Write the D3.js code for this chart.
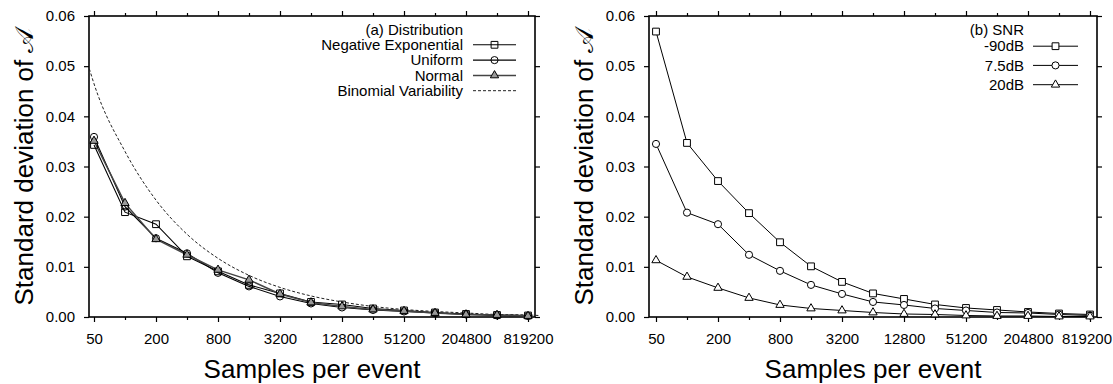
<!DOCTYPE html>
<html>
<head>
<meta charset="utf-8">
<script src="https://cdn.jsdelivr.net/npm/d3@7"></script>
<style>
  body { margin: 0; background: #fff; }
  svg { display: block; }
</style>
</head>
<body>
<div id="chart"></div>
<script>
// samples per event (x), doubling each step
const samples = [50, 100, 200, 400, 800, 1600, 3200, 6400, 12800, 25600, 51200, 102400, 204800, 409600, 819200];
const xTickLabels = ["50", "200", "800", "3200", "12800", "51200", "204800", "819200"];
const yTicks = [0, 0.01, 0.02, 0.03, 0.04, 0.05, 0.06];

// (a) Distribution
const negExp  = [0.0343, 0.0209, 0.0185, 0.0121, 0.0091, 0.0064, 0.0047, 0.0030, 0.0025, 0.0017, 0.0013, 0.0009, 0.0006, 0.0004, 0.0003];
const uniform = [0.0359, 0.0220, 0.0157, 0.0127, 0.0088, 0.0061, 0.0041, 0.0027, 0.0019, 0.0014, 0.0011, 0.0008, 0.0005, 0.0003, 0.0002];
const normal  = [0.0351, 0.0227, 0.0155, 0.0124, 0.0094, 0.0074, 0.0046, 0.0029, 0.0021, 0.0015, 0.0012, 0.0008, 0.0005, 0.0004, 0.0002];
const binomialN    = [45, 50, 100, 200, 400, 800, 1600, 3200, 6400, 12800, 25600, 51200, 102400, 204800, 409600, 819200, 1048576];
const binomialVals = [0.0495, 0.0465, 0.0330, 0.0233, 0.0165, 0.0117, 0.0083, 0.0059, 0.0042, 0.0030, 0.0021, 0.0015, 0.0011, 0.0008, 0.0005, 0.0004, 0.0003];

// (b) SNR
const snrM90 = [0.0569, 0.0347, 0.0271, 0.0207, 0.0149, 0.0101, 0.0070, 0.0047, 0.0036, 0.0025, 0.0018, 0.0014, 0.0010, 0.0007, 0.0005];
const snr75  = [0.0345, 0.0208, 0.0185, 0.0124, 0.0092, 0.0064, 0.0046, 0.0030, 0.0024, 0.0017, 0.0013, 0.0009, 0.0008, 0.0005, 0.0003];
const snr20  = [0.0113, 0.0080, 0.0058, 0.0038, 0.0024, 0.0017, 0.0013, 0.0009, 0.0006, 0.0005, 0.0003, 0.0002, 0.0002, 0.0001, 0.0001];

const FONT = "'Liberation Sans', Arial, Helvetica, sans-serif";
const width = 1113, height = 384;
const plotTop = 16, plotBottom = 317;

const svg = d3.select("#chart").append("svg")
    .attr("width", width)
    .attr("height", height)
    .style("font-family", FONT);

const y = d3.scaleLinear().domain([0, 0.06]).range([plotBottom, plotTop]);

const shapes = {
  square: d3.symbol().type(d3.symbolSquare).size(46),
  circle: d3.symbol().type(d3.symbolCircle).size(40),
  triangle: d3.symbol().type(d3.symbolTriangle).size(30)
};

function drawPanel(p) {
  const g = svg.append("g");
  const x = d3.scaleLog().base(2)
      .domain([samples[0], samples[samples.length - 1]])
      .range([p.x0, p.x1]);

  const styleAxis = a => {
    a.select(".domain").remove();
    a.attr("font-family", FONT).attr("font-size", 15);
    a.selectAll("line").attr("stroke", "#000").attr("stroke-width", 1.2);
    a.selectAll("text").attr("fill", "#000");
  };

  // bottom axis: every doubling ticked, every other one labelled
  g.append("g")
      .attr("transform", `translate(0,${plotBottom})`)
      .call(d3.axisBottom(x).tickValues(samples).tickSize(5).tickPadding(11)
        .tickFormat((d, i) => i % 2 ? "" : xTickLabels[i / 2]))
      .call(styleAxis)
      .call(a => a.selectAll(".tick").filter((d, i) => i % 2 === 1).select("line").attr("y2", 3))
      // keep the last label inside the page
      .call(a => a.selectAll(".tick text").each(function() {
        const b = this.getBBox();
        const t = this.parentNode.transform.baseVal.consolidate().matrix.e;
        const over = t + b.x + b.width - (width - 1);
        if (over > 0) d3.select(this).attr("dx", -over);
      }));

  g.append("g")
      .attr("transform", `translate(0,${plotTop})`)
      .call(d3.axisTop(x).tickValues(samples).tickSize(5).tickFormat(""))
      .call(styleAxis)
      .call(a => a.selectAll(".tick").filter((d, i) => i % 2 === 1).select("line").attr("y2", -3));

  g.append("g")
      .attr("transform", `translate(${p.left},0)`)
      .call(d3.axisLeft(y).tickValues(yTicks).tickSize(5).tickPadding(9).tickFormat(d3.format(".2f")))
      .call(styleAxis);

  g.append("g")
      .attr("transform", `translate(${p.right},0)`)
      .call(d3.axisRight(y).tickValues(yTicks).tickSize(5).tickFormat(""))
      .call(styleAxis);

  // frame
  g.append("rect")
      .attr("x", p.left).attr("y", plotTop)
      .attr("width", p.right - p.left).attr("height", plotBottom - plotTop)
      .attr("fill", "none").attr("stroke", "#000").attr("stroke-width", 1.6);

  // axis titles
  g.append("text")
      .attr("transform", `translate(${p.left - 56},${(plotTop + plotBottom) / 2}) rotate(-90)`)
      .attr("text-anchor", "middle")
      .attr("font-size", 26)
      .text("Standard deviation of 𝒜");

  g.append("text")
      .attr("x", (p.left + p.right) / 2)
      .attr("y", 378)
      .attr("text-anchor", "middle")
      .attr("font-size", 26)
      .text("Samples per event");

  // dashed reference curve
  if (p.dashed) {
    g.append("path")
        .datum(p.dashed.vals)
        .attr("fill", "none")
        .attr("stroke", "#222")
        .attr("stroke-width", 1)
        .attr("stroke-dasharray", "3,2")
        .attr("d", d3.line()
          .x((d, i) => Math.max(p.left, x(p.dashed.n[i])))
          .y(d => y(d))
          .curve(d3.curveMonotoneX));
  }

  const line = d3.line().x((d, i) => x(samples[i])).y(d => y(d));

  p.series.forEach(s => {
    g.append("path")
        .datum(s.values)
        .attr("fill", "none")
        .attr("stroke", s.stroke)
        .attr("stroke-width", s.width)
        .attr("d", line);
  });

  p.series.forEach(s => {
    g.append("g").selectAll("path")
        .data(s.values)
        .enter().append("path")
        .attr("transform", (d, i) => `translate(${x(samples[i])},${y(d)})`)
        .attr("d", shapes[s.shape]())
        .attr("fill", s.fill)
        .attr("stroke", "#000")
        .attr("stroke-width", 1);
  });

  // legend
  const lg = g.append("g").attr("font-size", 15);
  lg.append("text")
      .attr("x", p.legend.textX).attr("y", p.legend.rows[0])
      .attr("dy", "0.35em").attr("text-anchor", "end")
      .text(p.legend.title);

  p.legend.items.forEach((it, k) => {
    const yy = p.legend.rows[k + 1];
    lg.append("text")
        .attr("x", p.legend.textX).attr("y", yy)
        .attr("dy", "0.35em").attr("text-anchor", "end")
        .text(it.label);
    lg.append("line")
        .attr("x1", p.legend.lineX[0]).attr("x2", p.legend.lineX[1])
        .attr("y1", yy).attr("y2", yy)
        .attr("stroke", it.stroke)
        .attr("stroke-width", it.width)
        .attr("stroke-dasharray", it.dash || null);
    if (it.shape) {
      lg.append("path")
          .attr("transform", `translate(${(p.legend.lineX[0] + p.legend.lineX[1]) / 2},${yy})`)
          .attr("d", shapes[it.shape]())
          .attr("fill", it.fill)
          .attr("stroke", "#000")
          .attr("stroke-width", 1);
    }
  });
}

const seriesA = [
  { label: "Negative Exponential", values: negExp, shape: "square", fill: "none", stroke: "#000", width: 1.1 },
  { label: "Uniform", values: uniform, shape: "circle", fill: "none", stroke: "#000", width: 1.1 },
  { label: "Normal", values: normal, shape: "triangle", fill: "#999", stroke: "#444", width: 1.5 }
];

drawPanel({
  left: 89, right: 535, x0: 94, x1: 528,
  series: seriesA,
  dashed: { n: binomialN, vals: binomialVals },
  legend: {
    title: "(a) Distribution",
    textX: 463,
    rows: [29.5, 44.8, 60.1, 75.4, 90.7],
    lineX: [473, 516],
    items: seriesA.concat([{ label: "Binomial Variability", stroke: "#222", width: 1, dash: "3,2" }])
  }
});

const seriesB = [
  { label: "-90dB", values: snrM90, shape: "square", fill: "#fff", stroke: "#000", width: 1 },
  { label: "7.5dB", values: snr75, shape: "circle", fill: "#fff", stroke: "#000", width: 1 },
  { label: "20dB", values: snr20, shape: "triangle", fill: "#fff", stroke: "#000", width: 1 }
];

drawPanel({
  left: 649, right: 1097, x0: 656, x1: 1090,
  series: seriesB,
  legend: {
    title: "(b) SNR",
    textX: 1024,
    rows: [29.7, 46.2, 65.4, 84.7],
    lineX: [1033, 1078],
    items: seriesB
  }
});
</script>
</body>
</html>
